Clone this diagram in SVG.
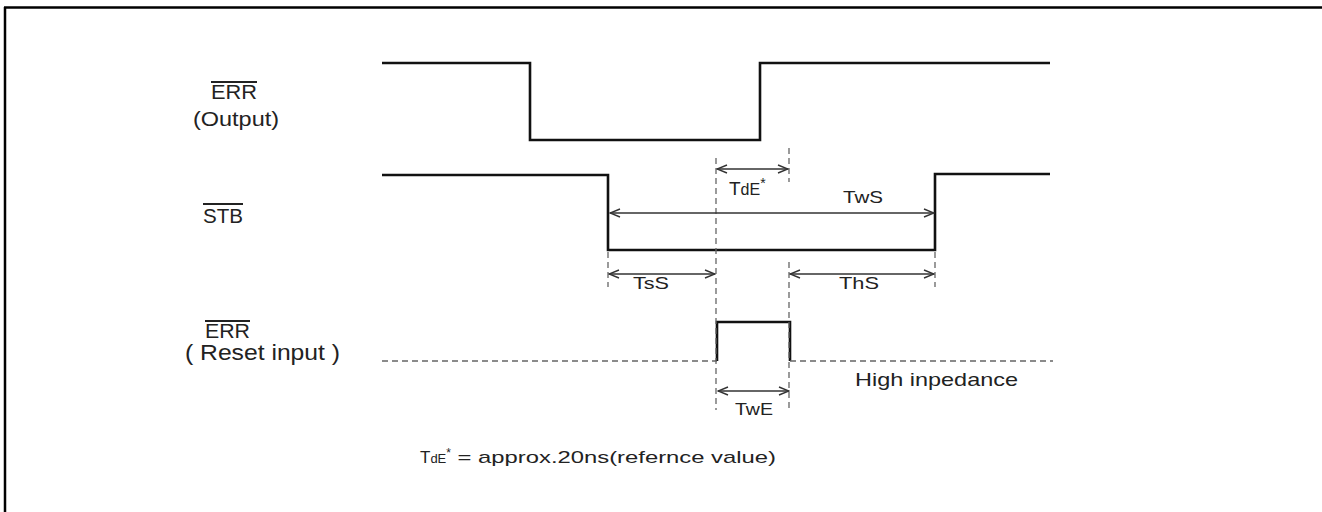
<svg xmlns="http://www.w3.org/2000/svg" width="1322" height="512" viewBox="0 0 1322 512">
  <style>
    .wave { fill: none; stroke: #111; stroke-width: 2.6; }
    .dash { fill: none; stroke: #666; stroke-width: 1.3; stroke-dasharray: 6 4; }
    .dim { fill: none; stroke: #333; stroke-width: 1.6; marker-start: url(#ah); marker-end: url(#ah); }
    .lbl { font-family: "Liberation Sans", Arial, sans-serif; fill: #222; }
    .ovl { stroke: #222; stroke-width: 2; }
  </style>
  <defs>
    <marker id="ah" viewBox="-12 -6 13 12" refX="0" refY="0" markerWidth="13" markerHeight="12" markerUnits="userSpaceOnUse" orient="auto-start-reverse">
      <path d="M-10,-4 L0,0 L-10,4" fill="none" stroke="#333" stroke-width="1.4"/>
    </marker>
  </defs>
  <rect width="1322" height="512" fill="#fff"/>
  <g id="frame">
    <line x1="4" y1="7.5" x2="1322" y2="7.5" stroke="#000" stroke-width="2.5"/>
    <line x1="5" y1="7" x2="5" y2="512" stroke="#000" stroke-width="2.5"/>
  </g>

  <g id="err-output">
    <polyline class="wave" points="382,63 530,63 530,140 760,140 760,63 1050,63"/>
    <text class="lbl" x="211" y="99" font-size="20" textLength="46" lengthAdjust="spacingAndGlyphs">ERR</text>
    <line class="ovl" x1="211" y1="82" x2="257" y2="82"/>
    <text class="lbl" x="193" y="126" font-size="21" textLength="86" lengthAdjust="spacingAndGlyphs">(Output)</text>
  </g>

  <g id="stb">
    <polyline class="wave" points="382,175 608,175 608,250 935,250 935,174 1050,174"/>
    <text class="lbl" x="203" y="223" font-size="20" textLength="40" lengthAdjust="spacingAndGlyphs">STB</text>
    <line class="ovl" x1="203" y1="204" x2="243" y2="204"/>
  </g>

  <g id="err-reset">
    <line class="dash" x1="382" y1="361" x2="717" y2="361"/>
    <polyline class="wave" points="717,361 717,322 790,322 790,361"/>
    <line class="dash" x1="790" y1="361" x2="1053" y2="361"/>
    <text class="lbl" x="205" y="338" font-size="20" textLength="45" lengthAdjust="spacingAndGlyphs">ERR</text>
    <line class="ovl" x1="205" y1="321" x2="250" y2="321"/>
    <text class="lbl" x="185" y="360" font-size="22" textLength="155" lengthAdjust="spacingAndGlyphs">( Reset input )</text>
    <text class="lbl" x="855" y="386" font-size="19" textLength="163" lengthAdjust="spacingAndGlyphs">High inpedance</text>
  </g>

  <g id="connectors">
    <line class="dash" x1="716" y1="158" x2="716" y2="410"/>
    <line class="dash" x1="789" y1="148" x2="789" y2="182"/>
    <line class="dash" x1="789" y1="262" x2="789" y2="410"/>
    <line class="dash" x1="608" y1="252" x2="608" y2="287"/>
    <line class="dash" x1="935" y1="252" x2="935" y2="287"/>
    <line class="dim" x1="717" y1="169" x2="788" y2="169"/>
    <line class="dim" x1="610" y1="213" x2="934" y2="213"/>
    <line class="dim" x1="609" y1="274" x2="715" y2="274"/>
    <line class="dim" x1="790" y1="274" x2="934" y2="274"/>
    <line class="dim" x1="718" y1="391" x2="789" y2="391"/>
  </g>

  <g id="dim-labels">
    <text class="lbl" x="729" y="195" font-size="19"><tspan>T</tspan><tspan font-size="16">dE</tspan><tspan font-size="14" dy="-7">*</tspan></text>
    <text class="lbl" x="843" y="203" font-size="17" textLength="40" lengthAdjust="spacingAndGlyphs">TwS</text>
    <text class="lbl" x="633" y="289" font-size="17" textLength="36" lengthAdjust="spacingAndGlyphs">TsS</text>
    <text class="lbl" x="839" y="289" font-size="17" textLength="40" lengthAdjust="spacingAndGlyphs">ThS</text>
    <text class="lbl" x="735" y="415" font-size="17" textLength="38" lengthAdjust="spacingAndGlyphs">TwE</text>
  </g>

  <g id="footnote">
    <text class="lbl" x="420" y="463" font-size="17"><tspan>T</tspan><tspan font-size="13">dE</tspan><tspan font-size="12" dy="-6">*</tspan><tspan dy="6" textLength="325" lengthAdjust="spacingAndGlyphs"> = approx.20ns(refernce value)</tspan></text>
  </g>
</svg>
